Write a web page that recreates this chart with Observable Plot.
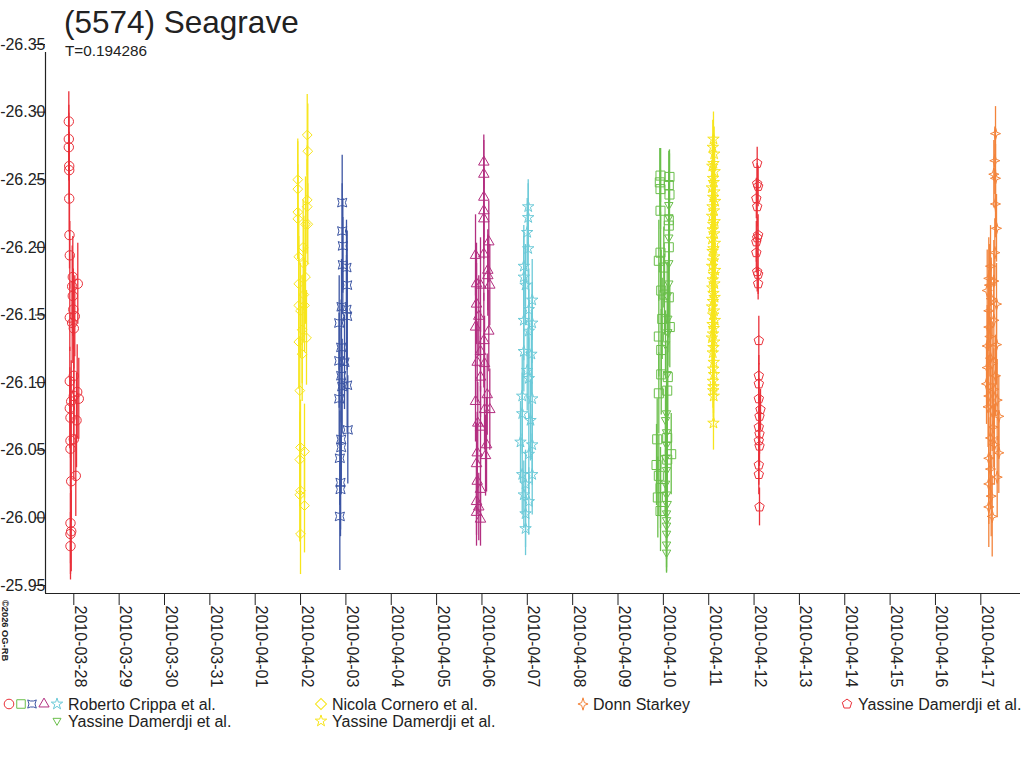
<!DOCTYPE html>
<html>
<head>
<meta charset="utf-8">
<script src="https://cdn.jsdelivr.net/npm/d3@7"></script>
<script src="https://cdn.jsdelivr.net/npm/@observablehq/plot@0.6"></script>
<style>
  html, body { margin: 0; padding: 0; background: #fff; }
  #wrap { position: relative; width: 1024px; height: 768px; overflow: hidden; font-family: "Liberation Sans", Arial, sans-serif; }
  #chart { position: absolute; left: 0; top: 0; }
  #overlay { position: absolute; left: 0; top: 0; pointer-events: none; }
</style>
</head>
<body>
<div id="wrap"><div id="chart"></div><svg id="overlay" width="1024" height="768"></svg></div>
<script>
// ---------- data (day offset from 2010-03-28 00:00 UT, magnitude, error) ----------
const title = "(5574) Seagrave";
const subtitle = "T=0.194286";
const copyright = "©2026 OG-RB";

const xLabels = ["2010-03-28","2010-03-29","2010-03-30","2010-03-31","2010-04-01","2010-04-02","2010-04-03",
  "2010-04-04","2010-04-05","2010-04-06","2010-04-07","2010-04-08","2010-04-09","2010-04-10","2010-04-11",
  "2010-04-12","2010-04-13","2010-04-14","2010-04-15","2010-04-16","2010-04-17"];
const yTicks = [-26.35, -26.30, -26.25, -26.20, -26.15, -26.10, -26.05, -26.00, -25.95];

const crippaCircles = [[-0.110,-26.299,0.022],[-0.110,-26.286,0.025],[-0.110,-26.280,0.025],[-0.101,-26.266,0.025],[-0.101,-26.263,0.025],[-0.101,-26.242,0.025],[-0.095,-26.215,0.025],[-0.088,-26.200,0.025],[-0.022,-26.184,0.03],[0.088,-26.179,0.03],[-0.035,-26.177,0.03],[-0.022,-26.170,0.03],[-0.011,-26.160,0.03],[-0.088,-26.154,0.025],[0.022,-26.155,0.03],[-0.035,-26.150,0.03],[0,-26.146,0.03],[0,-26.111,0.035],[-0.088,-26.107,0.025],[0.075,-26.099,0.035],[0,-26.096,0.03],[0.110,-26.094,0.03],[-0.057,-26.092,0.03],[-0.088,-26.087,0.03],[0.060,-26.078,0.035],[-0.073,-26.080,0.03],[0,-26.064,0.03],[-0.073,-26.063,0.03],[-0.073,-26.057,0.03],[0.044,-26.037,0.03],[-0.057,-26.033,0.03],[-0.073,-26.002,0.03],[-0.057,-25.996,0.03],[-0.073,-25.994,0.03],[-0.073,-25.985,0.025]];

const corneroDiamonds = [[5.147,-26.289,0.03],[5.160,-26.277,0.035],[4.939,-26.256,0.03],[4.939,-26.249,0.035],[5.147,-26.241,0.04],[5.147,-26.236,0.035],[4.939,-26.232,0.035],[4.939,-26.227,0.03],[5.160,-26.223,0.03],[5.109,-26.223,0.035],[5.058,-26.206,0.035],[4.961,-26.199,0.035],[5.072,-26.194,0.035],[5.109,-26.184,0.035],[4.961,-26.179,0.035],[5.072,-26.171,0.035],[4.961,-26.163,0.035],[5.087,-26.163,0.035],[4.999,-26.159,0.035],[5.036,-26.145,0.04],[4.961,-26.136,0.035],[5.131,-26.139,0.035],[5.036,-26.127,0.035],[4.983,-26.100,0.04],[4.999,-26.058,0.035],[5.087,-26.055,0.035],[4.983,-26.049,0.035],[4.999,-26.026,0.035],[4.983,-26.023,0.035],[5.087,-26.015,0.035],[4.999,-25.994,0.03]];

const crippaSpools = [[5.918,-26.239,0.035],[5.918,-26.218,0.035],[5.932,-26.207,0.035],[5.932,-26.193,0.035],[6.013,-26.191,0.035],[6.028,-26.178,0.04],[5.903,-26.162,0.035],[6.013,-26.160,0.04],[6.028,-26.155,0.04],[5.852,-26.150,0.035],[5.896,-26.132,0.035],[5.852,-26.122,0.035],[5.969,-26.121,0.035],[5.896,-26.111,0.035],[6.028,-26.104,0.035],[5.918,-26.103,0.035],[5.852,-26.094,0.035],[6.042,-26.071,0.04],[5.896,-26.064,0.035],[5.896,-26.058,0.035],[5.866,-26.050,0.035],[5.881,-26.032,0.035],[5.881,-26.027,0.035],[5.866,-26.007,0.04]];

const crippaTriangles = [[9.041,-26.269,0.02],[9.041,-26.260,0.025],[9.041,-26.243,0.03],[9.041,-26.233,0.03],[9.041,-26.227,0.03],[9.151,-26.210,0.03],[8.858,-26.200,0.03],[9.041,-26.201,0.035],[9.129,-26.189,0.03],[9.129,-26.185,0.03],[8.880,-26.179,0.03],[9.173,-26.178,0.03],[8.968,-26.178,0.035],[8.880,-26.164,0.03],[8.930,-26.155,0.03],[8.858,-26.147,0.03],[9.151,-26.144,0.03],[9.041,-26.137,0.035],[8.968,-26.129,0.03],[8.895,-26.121,0.03],[9.057,-26.120,0.035],[8.968,-26.110,0.03],[9.116,-26.097,0.03],[8.858,-26.092,0.03],[9.173,-26.086,0.03],[9.057,-26.086,0.03],[8.908,-26.076,0.03],[8.968,-26.073,0.03],[9.101,-26.060,0.035],[8.895,-26.054,0.03],[9.079,-26.052,0.03],[8.880,-26.046,0.03],[8.895,-26.033,0.025],[8.968,-26.027,0.025],[8.880,-26.018,0.025],[8.930,-26.014,0.025],[8.880,-26.010,0.025],[8.968,-26.005,0.02]];

const crippaStars = [[10.020,-26.236,0.02],[10.020,-26.228,0.025],[9.998,-26.217,0.025],[10.020,-26.205,0.03],[9.923,-26.192,0.03],[9.923,-26.184,0.03],[9.961,-26.178,0.03],[10.108,-26.167,0.03],[10.033,-26.160,0.03],[9.923,-26.152,0.03],[10.108,-26.150,0.03],[10.033,-26.144,0.03],[9.923,-26.129,0.03],[10.090,-26.127,0.03],[9.998,-26.115,0.03],[10.033,-26.109,0.03],[9.888,-26.096,0.03],[10.108,-26.094,0.03],[9.888,-26.083,0.03],[10.070,-26.078,0.03],[9.850,-26.062,0.03],[10.108,-26.060,0.03],[10.033,-26.053,0.03],[9.888,-26.038,0.03],[10.108,-26.038,0.03],[9.961,-26.031,0.025],[9.923,-26.023,0.025],[10.033,-26.018,0.025],[9.961,-26.009,0.025],[9.961,-25.998,0.02]];

const crippaSquares = [[12.937,-26.259,0.02],[13.135,-26.258,0.02],[12.922,-26.254,0.025],[13.120,-26.252,0.025],[12.937,-26.249,0.03],[13.135,-26.245,0.03],[12.937,-26.233,0.03],[13.120,-26.226,0.03],[13.120,-26.222,0.03],[13.120,-26.206,0.03],[12.937,-26.202,0.03],[12.900,-26.196,0.03],[13.010,-26.191,0.03],[12.953,-26.174,0.03],[13.025,-26.171,0.03],[13.120,-26.169,0.03],[12.975,-26.153,0.03],[13.142,-26.147,0.03],[12.900,-26.140,0.03],[12.953,-26.130,0.03],[12.953,-26.112,0.03],[13.098,-26.110,0.03],[12.900,-26.098,0.03],[13.085,-26.100,0.03],[12.864,-26.064,0.03],[13.085,-26.065,0.03],[12.849,-26.045,0.03],[13.173,-26.053,0.03],[13.085,-26.049,0.03],[12.900,-26.037,0.03],[12.937,-26.028,0.03],[12.878,-26.021,0.03],[12.937,-26.011,0.03]];

const damerdjiTriDown = [[13.120,-26.237,0.025],[13.120,-26.228,0.025],[13.120,-26.213,0.025],[13.120,-26.194,0.025],[13.120,-26.179,0.025],[13.085,-26.170,0.025],[13.098,-26.153,0.025],[13.098,-26.143,0.025],[13.047,-26.134,0.025],[13.085,-26.112,0.025],[13.070,-26.083,0.025],[13.047,-26.078,0.025],[13.070,-26.069,0.025],[13.070,-26.060,0.025],[13.047,-26.050,0.025],[13.070,-26.041,0.025],[13.047,-26.031,0.025],[13.070,-26.023,0.025],[13.085,-26.016,0.025],[13.070,-26.009,0.025],[13.070,-26.004,0.025],[13.070,-26.000,0.025],[13.070,-25.994,0.025],[13.070,-25.986,0.02],[13.070,-25.980,0.015]];

const damerdjiStars = [[14.105,-26.286,0.02],[14.090,-26.280,0.02],[14.120,-26.275,0.02],[14.105,-26.268,0.02],[14.080,-26.266,0.02],[14.130,-26.262,0.02],[14.095,-26.257,0.02],[14.110,-26.254,0.02],[14.070,-26.250,0.02],[14.125,-26.247,0.02],[14.100,-26.243,0.02],[14.140,-26.240,0.02],[14.085,-26.236,0.02],[14.115,-26.233,0.02],[14.075,-26.229,0.02],[14.130,-26.225,0.02],[14.100,-26.223,0.02],[14.090,-26.219,0.02],[14.120,-26.216,0.02],[14.070,-26.212,0.02],[14.135,-26.209,0.02],[14.105,-26.205,0.02],[14.085,-26.203,0.02],[14.120,-26.199,0.02],[14.095,-26.196,0.02],[14.075,-26.192,0.02],[14.140,-26.189,0.02],[14.110,-26.186,0.02],[14.090,-26.182,0.02],[14.125,-26.179,0.02],[14.080,-26.176,0.02],[14.105,-26.172,0.02],[14.130,-26.169,0.02],[14.095,-26.166,0.02],[14.075,-26.162,0.02],[14.115,-26.159,0.02],[14.100,-26.156,0.02],[14.135,-26.152,0.02],[14.085,-26.149,0.02],[14.110,-26.146,0.02],[14.095,-26.142,0.02],[14.070,-26.139,0.02],[14.120,-26.136,0.02],[14.105,-26.132,0.02],[14.090,-26.128,0.02],[14.110,-26.121,0.02],[14.100,-26.116,0.02],[14.115,-26.112,0.02],[14.095,-26.107,0.02],[14.105,-26.103,0.02],[14.100,-26.100,0.02],[14.110,-26.096,0.02],[14.105,-26.076,0.02]];

const damerdjiPentagons = [[15.069,-26.268,0.012],[15.069,-26.253,0.015],[15.090,-26.251,0.015],[15.050,-26.242,0.015],[15.069,-26.236,0.015],[15.090,-26.215,0.015],[15.069,-26.213,0.015],[15.050,-26.210,0.015],[15.050,-26.202,0.015],[15.069,-26.188,0.015],[15.090,-26.186,0.015],[15.090,-26.179,0.012],[15.105,-26.137,0.018],[15.105,-26.111,0.015],[15.105,-26.105,0.015],[15.105,-26.094,0.015],[15.142,-26.086,0.015],[15.120,-26.081,0.015],[15.105,-26.073,0.015],[15.120,-26.068,0.015],[15.105,-26.063,0.015],[15.120,-26.059,0.015],[15.105,-26.045,0.015],[15.105,-26.038,0.015],[15.120,-26.014,0.014]];

const starkeyStars = [[20.324,-26.290,0.02],[20.309,-26.270,0.025],[20.287,-26.260,0.025],[20.324,-26.257,0.025],[20.324,-26.238,0.025],[20.346,-26.220,0.025],[20.309,-26.202,0.025],[20.214,-26.192,0.03],[20.176,-26.183,0.03],[20.287,-26.181,0.03],[20.141,-26.174,0.03],[20.229,-26.168,0.03],[20.346,-26.164,0.03],[20.176,-26.159,0.03],[20.287,-26.152,0.03],[20.176,-26.147,0.03],[20.346,-26.134,0.03],[20.141,-26.133,0.03],[20.214,-26.124,0.03],[20.141,-26.117,0.03],[20.324,-26.111,0.03],[20.126,-26.105,0.03],[20.287,-26.101,0.03],[20.176,-26.096,0.03],[20.361,-26.093,0.03],[20.251,-26.085,0.03],[20.397,-26.081,0.03],[20.273,-26.073,0.03],[20.214,-26.065,0.03],[20.397,-26.054,0.03],[20.176,-26.050,0.03],[20.214,-26.042,0.03],[20.361,-26.036,0.03],[20.176,-26.031,0.03],[20.229,-26.022,0.03],[20.176,-26.014,0.03],[20.251,-26.007,0.03],[20.200,-26.140,0.03],[20.250,-26.120,0.03],[20.160,-26.088,0.03],[20.300,-26.060,0.03],[20.190,-26.178,0.03]];

// ---------- custom symbols ----------
const R = size => Math.sqrt(size / Math.PI);
const poly = pts => ({draw(ctx, size) { const r = R(size); pts.forEach(([a, b], i) => i ? ctx.lineTo(a * r, b * r) : ctx.moveTo(a * r, b * r)); ctx.closePath(); }});
const pentagon = poly(d3.range(5).map(k => { const a = (-90 + 72 * k) * Math.PI / 180; return [1.1 * Math.cos(a), 1.1 * Math.sin(a)]; }));
const triDown = poly([[0, 1.15], [-1.05, -0.7], [1.05, -0.7]]);
const star4 = poly([[0, -1.35], [0.3, -0.3], [1.1, 0], [0.3, 0.3], [0, 1.35], [-0.3, 0.3], [-1.1, 0], [-0.3, -0.3]]);
const spool = poly([[-1, -0.95], [-0.4, -0.7], [0.4, -0.7], [1, -0.95], [0.7, 0], [1, 0.95], [0.4, 0.7], [-0.4, 0.7], [-1, 0.95], [-0.7, 0]]);

const series = [
  {name: "Roberto Crippa et al.", data: crippaCircles, color: "#ea3039", symbol: "circle", r: 4.7},
  {name: "Nicola Cornero et al.", data: corneroDiamonds, color: "#f7e51c", symbol: "diamond2", r: 4.4},
  {name: "Roberto Crippa et al.", data: crippaSpools, color: "#3c55a3", symbol: spool, r: 4.6},
  {name: "Roberto Crippa et al.", data: crippaTriangles, color: "#b32f80", symbol: "triangle", r: 3.9},
  {name: "Roberto Crippa et al.", data: crippaStars, color: "#6ccad8", symbol: "star", r: 3.6},
  {name: "Roberto Crippa et al.", data: crippaSquares, color: "#6abf4b", symbol: "square", r: 5.1},
  {name: "Yassine Damerdji et al.", data: damerdjiTriDown, color: "#6abf4b", symbol: triDown, r: 4.0},
  {name: "Yassine Damerdji et al.", data: damerdjiStars, color: "#f7e51c", symbol: "star", r: 3.6},
  {name: "Yassine Damerdji et al.", data: damerdjiPentagons, color: "#ea3039", symbol: pentagon, r: 4.5},
  {name: "Donn Starkey", data: starkeyStars, color: "#f3843b", symbol: star4, r: 4.6}
];

const DAY0 = Date.UTC(2010, 2, 28);
const toDate = d => new Date(DAY0 + d * 864e5);
const xTicks = xLabels.map(s => new Date(s + "T00:00:00Z"));

const marks = [];
for (const s of series) {
  const rows = s.data.map(([d, m, e]) => ({date: toDate(d), mag: m, err: e}));
  marks.push(Plot.ruleX(rows, {x: "date", y1: r => r.mag - r.err, y2: r => r.mag + r.err, stroke: s.color, strokeWidth: 1.3}));
  marks.push(Plot.dot(rows, {x: "date", y: "mag", symbol: () => s.symbol, r: s.r, stroke: s.color, strokeWidth: 1, fill: "none"}));
}

const chart = Plot.plot({
  width: 1024,
  height: 700,
  marginTop: 52,
  marginBottom: 107,
  marginLeft: 45,
  marginRight: 4,
  style: {fontFamily: "Liberation Sans, Arial, sans-serif", background: "white", color: "#222"},
  x: {type: "utc", domain: [toDate(-0.624), toDate(20.875)], axis: null},
  y: {domain: [yTicks[0], yTicks[yTicks.length - 1]], reverse: true, axis: null},
  symbol: {type: "identity"},
  marks: [
    ...marks,
    Plot.ruleX([toDate(-0.624)], {stroke: "#222", strokeWidth: 1.2}),
    Plot.ruleY([yTicks[yTicks.length - 1]], {stroke: "#222", strokeWidth: 1.2}),
    Plot.axisY({ticks: yTicks, label: null, tickSize: 10, tickPadding: -10, dy: -8, fontSize: 16, tickFormat: d => d.toFixed(2), stroke: "#222", color: "#222"}),
    Plot.axisX({ticks: xTicks, label: null, tickSize: 12, tickFormat: () => "", stroke: "#222"}),
    Plot.text(xTicks, {x: d => d, text: (d, i) => xLabels[i], frameAnchor: "bottom", rotate: 90, textAnchor: "start", lineAnchor: "bottom", dy: 12, dx: 1, fontSize: 16, fill: "#222"})
  ]
});
document.getElementById("chart").appendChild(chart);

// ---------- overlay: title, subtitle, legend, copyright ----------
const ov = d3.select("#overlay").style("font-family", "Liberation Sans, Arial, sans-serif");
ov.append("text").attr("x", 64).attr("y", 33).attr("font-size", 31.5).attr("fill", "#222").text(title);
ov.append("text").attr("x", 65).attr("y", 56).attr("font-size", 15.3).attr("fill", "#222").text(subtitle);
ov.append("text").attr("transform", "translate(2,600) rotate(90)").attr("font-size", 9.3).attr("fill", "#222").attr("font-weight", "bold").text(copyright);

const legendItems = [
  {syms: [["circle", "#ea3039", 9, 4.8], ["square", "#6abf4b", 21, 4.8], [spool, "#3c55a3", 32, 4.3], ["triangle", "#b32f80", 44, 3.8], ["star", "#6ccad8", 57, 3.6]], text: "Roberto Crippa et al.", tx: 68, y: 704},
  {syms: [["diamond2", "#f7e51c", 321, 4.4]], text: "Nicola Cornero et al.", tx: 332, y: 704},
  {syms: [[star4, "#f3843b", 583, 4.6]], text: "Donn Starkey", tx: 593, y: 704},
  {syms: [[pentagon, "#ea3039", 847, 4.5]], text: "Yassine Damerdji et al.", tx: 858, y: 704},
  {syms: [[triDown, "#6abf4b", 57, 3.8]], text: "Yassine Damerdji et al.", tx: 68, y: 721},
  {syms: [["star", "#f7e51c", 321, 3.6]], text: "Yassine Damerdji et al.", tx: 332, y: 721}
];
const symMap = {circle: d3.symbolCircle, square: d3.symbolSquare, triangle: d3.symbolTriangle, star: d3.symbolStar, diamond2: d3.symbolSquare};
for (const it of legendItems) {
  for (const [sym, col, x, r] of it.syms) {
    const type = typeof sym === "string" ? symMap[sym] : sym;
    ov.append("path").attr("d", d3.symbol(type, Math.PI * r * r)())
      .attr("transform", `translate(${x},${it.y})` + (sym === "diamond2" ? " rotate(45)" : ""))
      .attr("fill", "none").attr("stroke", col).attr("stroke-width", 1);
  }
  ov.append("text").attr("x", it.tx).attr("y", it.y + 5.5).attr("font-size", 16).attr("fill", "#222").text(it.text);
}
</script>
</body>
</html>
